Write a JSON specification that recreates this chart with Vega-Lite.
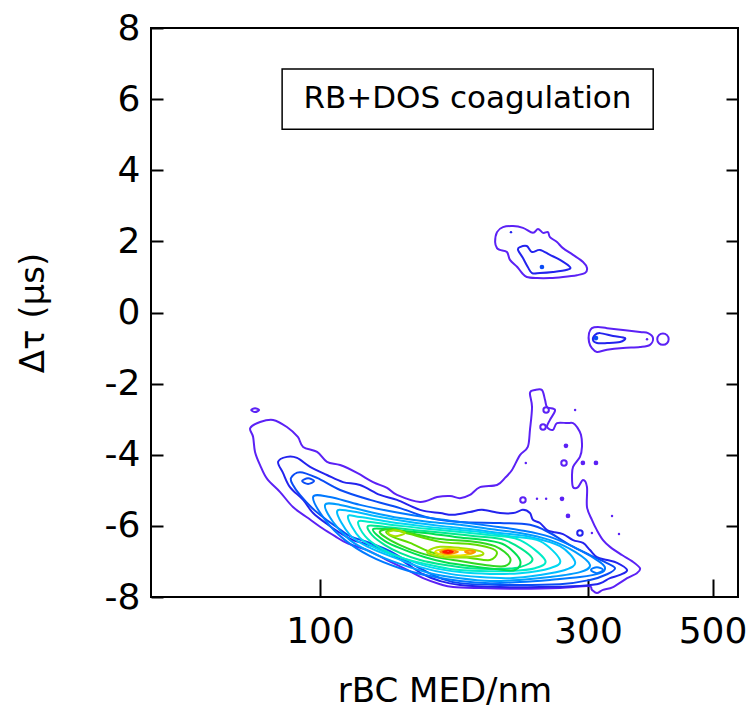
{
"$schema": "https://vega.github.io/schema/vega-lite/v6.json",
"width": 587, "height": 569,
"autosize": {"type": "none"},
"padding": {"left": 151, "top": 28, "right": 17, "bottom": 116},
"background": "white",
"config": {
 "view": {"stroke": "black", "strokeWidth": 2},
 "font": "DejaVu Sans",
 "axis": {"labelFont": "DejaVu Sans", "titleFont": "DejaVu Sans", "labelColor": "black", "titleColor": "black", "tickColor": "black", "tickWidth": 2, "domain": false, "grid": false, "titleFontWeight": "normal", "labelOverlap": false, "labelFlush": false}
},
"datasets": {
 "box": [{"x1": 85.6, "x2": 392, "y1": 6.85, "y2": 5.15, "tx": 183, "ty": 6.0, "label": "RB+DOS coagulation"}],
 "dots": [
  {"k":"h","lv":1,"x":252.7,"y":-2.74},{"k":"h","lv":1,"x":249.5,"y":-3.22},{"k":"h","lv":1,"x":271.9,"y":-4.23},{"k":"h","lv":1,"x":229.8,"y":-5.27},{"k":"h","lv":2,"x":290.3,"y":-6.20},
  {"k":"f","lv":1,"x":274.1,"y":-3.75},{"k":"f","lv":1,"x":293.8,"y":-4.23},{"k":"f","lv":1,"x":310.0,"y":-4.23},{"k":"f","lv":1,"x":269.7,"y":-5.24},{"k":"f","lv":1,"x":276.4,"y":-5.72},{"k":"f","lv":3,"x":248.4,"y":1.28},{"k":"f","lv":3,"x":310.0,"y":-0.72},
  {"k":"t","lv":1,"x":284.6,"y":-2.74},{"k":"t","lv":1,"x":232.5,"y":-4.23},{"k":"t","lv":1,"x":243.4,"y":-5.24},{"k":"t","lv":1,"x":252.7,"y":-5.24},{"k":"t","lv":1,"x":331.1,"y":-5.72},{"k":"t","lv":1,"x":304.9,"y":-6.20},{"k":"t","lv":1,"x":340.7,"y":-6.23},{"k":"t","lv":2,"x":218.8,"y":2.26},{"k":"t","lv":1,"x":382.2,"y":-0.75},
  {"k":"H","lv":1,"x":408,"y":-0.75}
 ],
 "contours": [
  {"c":1,"lv":1,"x":75.1,"y":-3.25},{"c":1,"lv":1,"x":78.2,"y":-3.08},{"c":1,"lv":1,"x":82.5,"y":-3.02},{"c":1,"lv":1,"x":87.3,"y":-3.22},{"c":1,"lv":1,"x":91.3,"y":-3.50},{"c":1,"lv":1,"x":93.3,"y":-3.78},{"c":1,"lv":1,"x":98.8,"y":-3.92},{"c":1,"lv":1,"x":102.9,"y":-4.20},{"c":1,"lv":1,"x":108.6,"y":-4.29},{"c":1,"lv":1,"x":116.4,"y":-4.51},{"c":1,"lv":1,"x":124.3,"y":-4.77},{"c":1,"lv":1,"x":131.6,"y":-4.93},{"c":1,"lv":1,"x":137.1,"y":-5.13},{"c":1,"lv":1,"x":150.7,"y":-5.33},{"c":1,"lv":1,"x":161.6,"y":-5.19},{"c":1,"lv":1,"x":170.4,"y":-5.16},{"c":1,"lv":1,"x":177.5,"y":-5.22},{"c":1,"lv":1,"x":184.9,"y":-5.13},{"c":1,"lv":1,"x":192.7,"y":-4.91},{"c":1,"lv":1,"x":206.6,"y":-4.85},{"c":1,"lv":1,"x":213.5,"y":-4.65},{"c":1,"lv":1,"x":219.7,"y":-4.43},{"c":1,"lv":1,"x":227.0,"y":-4.01},{"c":1,"lv":1,"x":234.4,"y":-3.78},{"c":1,"lv":1,"x":236.5,"y":-3.30},{"c":1,"lv":1,"x":238.5,"y":-2.66},{"c":1,"lv":1,"x":236.5,"y":-2.26},{"c":1,"lv":1,"x":241.4,"y":-2.18},{"c":1,"lv":1,"x":248.4,"y":-2.18},{"c":1,"lv":1,"x":251.6,"y":-2.46},{"c":1,"lv":1,"x":253.7,"y":-2.66},{"c":1,"lv":1,"x":262.1,"y":-2.74},{"c":1,"lv":1,"x":256.7,"y":-3.02},{"c":1,"lv":1,"x":253.7,"y":-3.22},{"c":1,"lv":1,"x":259.9,"y":-3.30},{"c":1,"lv":1,"x":264.2,"y":-3.11},{"c":1,"lv":1,"x":275.3,"y":-3.11},{"c":1,"lv":1,"x":282.2,"y":-3.11},{"c":1,"lv":1,"x":286.8,"y":-3.22},{"c":1,"lv":1,"x":291.5,"y":-3.44},{"c":1,"lv":1,"x":292.7,"y":-3.78},{"c":1,"lv":1,"x":290.3,"y":-4.06},{"c":1,"lv":1,"x":282.2,"y":-4.34},{"c":1,"lv":1,"x":281.0,"y":-4.63},{"c":1,"lv":1,"x":282.2,"y":-4.91},{"c":1,"lv":1,"x":288.0,"y":-4.91},{"c":1,"lv":1,"x":294.0,"y":-4.71},{"c":1,"lv":1,"x":298.8,"y":-4.91},{"c":1,"lv":1,"x":298.8,"y":-5.47},{"c":1,"lv":1,"x":304.9,"y":-5.83},{"c":1,"lv":1,"x":311.2,"y":-6.12},{"c":1,"lv":1,"x":319.1,"y":-6.40},{"c":1,"lv":1,"x":328.4,"y":-6.59},{"c":1,"lv":1,"x":344.9,"y":-6.82},{"c":1,"lv":1,"x":359.3,"y":-6.99},{"c":1,"lv":1,"x":371.3,"y":-7.19},{"c":1,"lv":1,"x":366.6,"y":-7.33},{"c":1,"lv":1,"x":352.2,"y":-7.47},{"c":1,"lv":1,"x":332.5,"y":-7.72},{"c":1,"lv":1,"x":319.1,"y":-7.80},{"c":1,"lv":1,"x":311.2,"y":-7.89},{"c":1,"lv":1,"x":304.9,"y":-7.80},{"c":1,"lv":1,"x":300.0,"y":-7.69},{"c":1,"lv":1,"x":267.5,"y":-7.75},{"c":1,"lv":1,"x":227.0,"y":-7.77},{"c":1,"lv":1,"x":192.7,"y":-7.75},{"c":1,"lv":1,"x":172.5,"y":-7.72},{"c":1,"lv":1,"x":163.6,"y":-7.64},{"c":1,"lv":1,"x":152.6,"y":-7.47},{"c":1,"lv":1,"x":143.0,"y":-7.24},{"c":1,"lv":1,"x":131.6,"y":-6.96},{"c":1,"lv":1,"x":121.3,"y":-6.68},{"c":1,"lv":1,"x":111.5,"y":-6.48},{"c":1,"lv":1,"x":106.3,"y":-6.29},{"c":1,"lv":1,"x":100.8,"y":-6.06},{"c":1,"lv":1,"x":95.2,"y":-5.78},{"c":1,"lv":1,"x":89.5,"y":-5.47},{"c":1,"lv":1,"x":84.9,"y":-5.05},{"c":1,"lv":1,"x":80.5,"y":-4.68},{"c":1,"lv":1,"x":78.2,"y":-4.29},{"c":1,"lv":1,"x":76.6,"y":-3.92},{"c":1,"lv":1,"x":76.0,"y":-3.50},
  {"c":2,"lv":1,"x":75.4,"y":-2.74},{"c":2,"lv":1,"x":76.6,"y":-2.69},{"c":2,"lv":1,"x":77.9,"y":-2.74},{"c":2,"lv":1,"x":76.6,"y":-2.80},
  {"c":3,"lv":1,"x":206.6,"y":2.26},{"c":3,"lv":1,"x":211.7,"y":2.40},{"c":3,"lv":1,"x":220.6,"y":2.43},{"c":3,"lv":1,"x":229.8,"y":2.38},{"c":3,"lv":1,"x":239.4,"y":2.24},{"c":3,"lv":1,"x":244.4,"y":2.35},{"c":3,"lv":1,"x":249.5,"y":2.24},{"c":3,"lv":1,"x":254.6,"y":2.26},{"c":3,"lv":1,"x":256.7,"y":2.12},{"c":3,"lv":1,"x":264.2,"y":1.98},{"c":3,"lv":1,"x":270.8,"y":1.81},{"c":3,"lv":1,"x":282.2,"y":1.62},{"c":3,"lv":1,"x":294.0,"y":1.42},{"c":3,"lv":1,"x":298.8,"y":1.25},{"c":3,"lv":1,"x":296.4,"y":1.11},{"c":3,"lv":1,"x":286.8,"y":1.05},{"c":3,"lv":1,"x":270.8,"y":1.00},{"c":3,"lv":1,"x":256.7,"y":0.97},{"c":3,"lv":1,"x":243.4,"y":0.97},{"c":3,"lv":1,"x":233.4,"y":1.00},{"c":3,"lv":1,"x":228.9,"y":1.11},{"c":3,"lv":1,"x":224.5,"y":1.28},{"c":3,"lv":1,"x":217.9,"y":1.48},{"c":3,"lv":1,"x":215.2,"y":1.70},{"c":3,"lv":1,"x":209.1,"y":1.76},{"c":3,"lv":1,"x":206.6,"y":1.81},{"c":3,"lv":1,"x":205.0,"y":1.98},
  {"c":4,"lv":2,"x":227.0,"y":1.84},{"c":4,"lv":2,"x":233.4,"y":1.87},{"c":4,"lv":2,"x":238.5,"y":1.70},{"c":4,"lv":2,"x":246.4,"y":1.76},{"c":4,"lv":2,"x":256.7,"y":1.62},{"c":4,"lv":2,"x":267.5,"y":1.48},{"c":4,"lv":2,"x":278.7,"y":1.28},{"c":4,"lv":2,"x":275.3,"y":1.20},{"c":4,"lv":2,"x":259.9,"y":1.14},{"c":4,"lv":2,"x":246.4,"y":1.11},{"c":4,"lv":2,"x":238.5,"y":1.11},{"c":4,"lv":2,"x":234.4,"y":1.28},{"c":4,"lv":2,"x":229.8,"y":1.53},{"c":4,"lv":2,"x":225.2,"y":1.76},
  {"c":5,"lv":1,"x":304.9,"y":-0.44},{"c":5,"lv":1,"x":312.6,"y":-0.41},{"c":5,"lv":1,"x":324.4,"y":-0.44},{"c":5,"lv":1,"x":346.4,"y":-0.49},{"c":5,"lv":1,"x":371.3,"y":-0.55},{"c":5,"lv":1,"x":383.8,"y":-0.58},{"c":5,"lv":1,"x":391.7,"y":-0.72},{"c":5,"lv":1,"x":386.9,"y":-0.91},{"c":5,"lv":1,"x":371.3,"y":-0.97},{"c":5,"lv":1,"x":346.4,"y":-1.00},{"c":5,"lv":1,"x":324.4,"y":-1.05},{"c":5,"lv":1,"x":311.2,"y":-1.11},{"c":5,"lv":1,"x":304.9,"y":-1.00},{"c":5,"lv":1,"x":301.3,"y":-0.83},{"c":5,"lv":1,"x":301.3,"y":-0.58},
  {"c":6,"lv":2,"x":308.7,"y":-0.63},{"c":6,"lv":2,"x":315.2,"y":-0.58},{"c":6,"lv":2,"x":332.5,"y":-0.66},{"c":6,"lv":2,"x":349.3,"y":-0.72},{"c":6,"lv":2,"x":342.1,"y":-0.83},{"c":6,"lv":2,"x":324.4,"y":-0.86},{"c":6,"lv":2,"x":311.2,"y":-0.86},{"c":6,"lv":2,"x":306.2,"y":-0.77},
  {"c":7,"lv":2,"x":84.2,"y":-4.20},{"c":7,"lv":2,"x":87.3,"y":-4.06},{"c":7,"lv":2,"x":91.0,"y":-4.09},{"c":7,"lv":2,"x":96.0,"y":-4.34},{"c":7,"lv":2,"x":102.9,"y":-4.57},{"c":7,"lv":2,"x":109.9,"y":-4.77},{"c":7,"lv":2,"x":117.8,"y":-4.85},{"c":7,"lv":2,"x":127.9,"y":-5.13},{"c":7,"lv":2,"x":137.1,"y":-5.27},{"c":7,"lv":2,"x":150.7,"y":-5.55},{"c":7,"lv":2,"x":163.6,"y":-5.64},{"c":7,"lv":2,"x":172.5,"y":-5.69},{"c":7,"lv":2,"x":184.9,"y":-5.61},{"c":7,"lv":2,"x":194.3,"y":-5.55},{"c":7,"lv":2,"x":209.1,"y":-5.64},{"c":7,"lv":2,"x":220.8,"y":-5.64},{"c":7,"lv":2,"x":229.8,"y":-5.55},{"c":7,"lv":2,"x":236.5,"y":-5.64},{"c":7,"lv":2,"x":239.4,"y":-5.83},{"c":7,"lv":2,"x":246.4,"y":-5.92},{"c":7,"lv":2,"x":253.7,"y":-6.12},{"c":7,"lv":2,"x":259.9,"y":-6.17},{"c":7,"lv":2,"x":270.8,"y":-6.23},{"c":7,"lv":2,"x":282.2,"y":-6.40},{"c":7,"lv":2,"x":294.0,"y":-6.48},{"c":7,"lv":2,"x":302.5,"y":-6.68},{"c":7,"lv":2,"x":311.2,"y":-6.88},{"c":7,"lv":2,"x":324.4,"y":-6.96},{"c":7,"lv":2,"x":338.0,"y":-7.04},{"c":7,"lv":2,"x":352.2,"y":-7.24},{"c":7,"lv":2,"x":342.1,"y":-7.38},{"c":7,"lv":2,"x":328.4,"y":-7.47},{"c":7,"lv":2,"x":319.1,"y":-7.58},{"c":7,"lv":2,"x":311.2,"y":-7.64},{"c":7,"lv":2,"x":290.3,"y":-7.69},{"c":7,"lv":2,"x":246.4,"y":-7.72},{"c":7,"lv":2,"x":209.1,"y":-7.72},{"c":7,"lv":2,"x":177.5,"y":-7.66},{"c":7,"lv":2,"x":163.6,"y":-7.55},{"c":7,"lv":2,"x":152.6,"y":-7.36},{"c":7,"lv":2,"x":143.0,"y":-7.07},{"c":7,"lv":2,"x":134.8,"y":-6.82},{"c":7,"lv":2,"x":125.4,"y":-6.59},{"c":7,"lv":2,"x":114.5,"y":-6.40},{"c":7,"lv":2,"x":108.6,"y":-6.20},{"c":7,"lv":2,"x":103.3,"y":-5.97},{"c":7,"lv":2,"x":97.2,"y":-5.64},{"c":7,"lv":2,"x":93.3,"y":-5.27},{"c":7,"lv":2,"x":88.4,"y":-4.91},{"c":7,"lv":2,"x":85.9,"y":-4.51},
  {"c":8,"lv":3,"x":88.8,"y":-4.65},{"c":8,"lv":3,"x":92.1,"y":-4.49},{"c":8,"lv":3,"x":98.8,"y":-4.65},{"c":8,"lv":3,"x":108.6,"y":-4.99},{"c":8,"lv":3,"x":122.8,"y":-5.27},{"c":8,"lv":3,"x":138.8,"y":-5.50},{"c":8,"lv":3,"x":157.0,"y":-5.78},{"c":8,"lv":3,"x":177.5,"y":-5.89},{"c":8,"lv":3,"x":209.1,"y":-5.92},{"c":8,"lv":3,"x":236.5,"y":-5.97},{"c":8,"lv":3,"x":256.7,"y":-6.20},{"c":8,"lv":3,"x":278.7,"y":-6.54},{"c":8,"lv":3,"x":302.5,"y":-6.82},{"c":8,"lv":3,"x":321.8,"y":-7.02},{"c":8,"lv":3,"x":335.2,"y":-7.19},{"c":8,"lv":3,"x":324.4,"y":-7.36},{"c":8,"lv":3,"x":302.5,"y":-7.52},{"c":8,"lv":3,"x":267.5,"y":-7.64},{"c":8,"lv":3,"x":209.1,"y":-7.66},{"c":8,"lv":3,"x":177.5,"y":-7.61},{"c":8,"lv":3,"x":163.6,"y":-7.47},{"c":8,"lv":3,"x":152.6,"y":-7.24},{"c":8,"lv":3,"x":141.7,"y":-6.96},{"c":8,"lv":3,"x":133.2,"y":-6.71},{"c":8,"lv":3,"x":122.8,"y":-6.48},{"c":8,"lv":3,"x":113.1,"y":-6.29},{"c":8,"lv":3,"x":107.7,"y":-6.06},{"c":8,"lv":3,"x":102.1,"y":-5.80},{"c":8,"lv":3,"x":96.8,"y":-5.50},{"c":8,"lv":3,"x":92.1,"y":-5.13},{"c":8,"lv":3,"x":89.5,"y":-4.85},
  {"c":9,"lv":3,"x":92.9,"y":-4.74},{"c":9,"lv":3,"x":95.2,"y":-4.66},{"c":9,"lv":3,"x":97.6,"y":-4.74},{"c":9,"lv":3,"x":95.2,"y":-4.82},
  {"c":10,"lv":4,"x":97.2,"y":-5.19},{"c":10,"lv":4,"x":104.2,"y":-5.19},{"c":10,"lv":4,"x":117.8,"y":-5.41},{"c":10,"lv":4,"x":138.8,"y":-5.64},{"c":10,"lv":4,"x":157.0,"y":-5.78},{"c":10,"lv":4,"x":177.5,"y":-5.89},{"c":10,"lv":4,"x":200.7,"y":-6.00},{"c":10,"lv":4,"x":227.0,"y":-6.12},{"c":10,"lv":4,"x":256.7,"y":-6.31},{"c":10,"lv":4,"x":290.3,"y":-6.68},{"c":10,"lv":4,"x":315.2,"y":-7.02},{"c":10,"lv":4,"x":321.8,"y":-7.19},{"c":10,"lv":4,"x":315.2,"y":-7.33},{"c":10,"lv":4,"x":290.3,"y":-7.44},{"c":10,"lv":4,"x":256.7,"y":-7.52},{"c":10,"lv":4,"x":227.0,"y":-7.58},{"c":10,"lv":4,"x":200.7,"y":-7.61},{"c":10,"lv":4,"x":177.5,"y":-7.55},{"c":10,"lv":4,"x":157.0,"y":-7.41},{"c":10,"lv":4,"x":138.8,"y":-7.19},{"c":10,"lv":4,"x":122.8,"y":-6.85},{"c":10,"lv":4,"x":110.8,"y":-6.40},{"c":10,"lv":4,"x":102.1,"y":-5.83},
  {"c":11,"lv":4,"x":303.7,"y":-7.24},{"c":11,"lv":4,"x":311.2,"y":-7.16},{"c":11,"lv":4,"x":319.1,"y":-7.24},{"c":11,"lv":4,"x":311.2,"y":-7.33},
  {"c":12,"lv":5,"x":102.1,"y":-5.41},{"c":12,"lv":5,"x":108.6,"y":-5.41},{"c":12,"lv":5,"x":122.8,"y":-5.61},{"c":12,"lv":5,"x":138.8,"y":-5.78},{"c":12,"lv":5,"x":157.0,"y":-5.89},{"c":12,"lv":5,"x":177.5,"y":-5.97},{"c":12,"lv":5,"x":200.7,"y":-6.09},{"c":12,"lv":5,"x":227.0,"y":-6.20},{"c":12,"lv":5,"x":256.7,"y":-6.40},{"c":12,"lv":5,"x":284.6,"y":-6.73},{"c":12,"lv":5,"x":302.5,"y":-7.10},{"c":12,"lv":5,"x":290.3,"y":-7.30},{"c":12,"lv":5,"x":256.7,"y":-7.44},{"c":12,"lv":5,"x":227.0,"y":-7.52},{"c":12,"lv":5,"x":200.7,"y":-7.55},{"c":12,"lv":5,"x":177.5,"y":-7.47},{"c":12,"lv":5,"x":157.0,"y":-7.33},{"c":12,"lv":5,"x":138.8,"y":-7.07},{"c":12,"lv":5,"x":122.8,"y":-6.73},{"c":12,"lv":5,"x":113.1,"y":-6.40},{"c":12,"lv":5,"x":105.5,"y":-5.89},
  {"c":13,"lv":6,"x":107.2,"y":-5.61},{"c":13,"lv":6,"x":113.1,"y":-5.58},{"c":13,"lv":6,"x":127.9,"y":-5.75},{"c":13,"lv":6,"x":144.6,"y":-5.89},{"c":13,"lv":6,"x":163.6,"y":-6.00},{"c":13,"lv":6,"x":184.9,"y":-6.09},{"c":13,"lv":6,"x":209.1,"y":-6.20},{"c":13,"lv":6,"x":236.5,"y":-6.31},{"c":13,"lv":6,"x":267.5,"y":-6.57},{"c":13,"lv":6,"x":284.6,"y":-7.02},{"c":13,"lv":6,"x":273.1,"y":-7.24},{"c":13,"lv":6,"x":246.4,"y":-7.38},{"c":13,"lv":6,"x":217.9,"y":-7.47},{"c":13,"lv":6,"x":192.7,"y":-7.44},{"c":13,"lv":6,"x":170.4,"y":-7.35},{"c":13,"lv":6,"x":150.7,"y":-7.16},{"c":13,"lv":6,"x":136.0,"y":-6.90},{"c":13,"lv":6,"x":122.8,"y":-6.62},{"c":13,"lv":6,"x":113.1,"y":-6.26},
  {"c":14,"lv":7,"x":112.1,"y":-5.75},{"c":14,"lv":7,"x":117.8,"y":-5.75},{"c":14,"lv":7,"x":133.2,"y":-5.89},{"c":14,"lv":7,"x":150.7,"y":-6.00},{"c":14,"lv":7,"x":170.4,"y":-6.09},{"c":14,"lv":7,"x":192.7,"y":-6.17},{"c":14,"lv":7,"x":217.9,"y":-6.29},{"c":14,"lv":7,"x":246.4,"y":-6.43},{"c":14,"lv":7,"x":267.5,"y":-6.96},{"c":14,"lv":7,"x":256.7,"y":-7.19},{"c":14,"lv":7,"x":227.0,"y":-7.33},{"c":14,"lv":7,"x":200.7,"y":-7.35},{"c":14,"lv":7,"x":177.5,"y":-7.30},{"c":14,"lv":7,"x":157.0,"y":-7.16},{"c":14,"lv":7,"x":141.7,"y":-6.93},{"c":14,"lv":7,"x":127.9,"y":-6.68},{"c":14,"lv":7,"x":117.8,"y":-6.34},
  {"c":15,"lv":8,"x":116.9,"y":-5.89},{"c":15,"lv":8,"x":122.8,"y":-5.89},{"c":15,"lv":8,"x":138.8,"y":-6.00},{"c":15,"lv":8,"x":157.0,"y":-6.09},{"c":15,"lv":8,"x":177.5,"y":-6.17},{"c":15,"lv":8,"x":200.7,"y":-6.26},{"c":15,"lv":8,"x":227.0,"y":-6.40},{"c":15,"lv":8,"x":251.6,"y":-6.96},{"c":15,"lv":8,"x":241.4,"y":-7.19},{"c":15,"lv":8,"x":217.9,"y":-7.27},{"c":15,"lv":8,"x":192.7,"y":-7.27},{"c":15,"lv":8,"x":170.4,"y":-7.21},{"c":15,"lv":8,"x":153.8,"y":-7.07},{"c":15,"lv":8,"x":138.8,"y":-6.88},{"c":15,"lv":8,"x":127.9,"y":-6.62},{"c":15,"lv":8,"x":120.3,"y":-6.29},
  {"c":16,"lv":9,"x":121.8,"y":-6.00},{"c":16,"lv":9,"x":130.5,"y":-6.03},{"c":16,"lv":9,"x":147.6,"y":-6.12},{"c":16,"lv":9,"x":167.0,"y":-6.20},{"c":16,"lv":9,"x":188.8,"y":-6.29},{"c":16,"lv":9,"x":213.5,"y":-6.40},{"c":16,"lv":9,"x":238.5,"y":-6.90},{"c":16,"lv":9,"x":227.0,"y":-7.16},{"c":16,"lv":9,"x":204.9,"y":-7.21},{"c":16,"lv":9,"x":184.9,"y":-7.19},{"c":16,"lv":9,"x":167.0,"y":-7.10},{"c":16,"lv":9,"x":150.7,"y":-6.96},{"c":16,"lv":9,"x":138.8,"y":-6.76},{"c":16,"lv":9,"x":130.5,"y":-6.54},{"c":16,"lv":9,"x":123.8,"y":-6.26},
  {"c":17,"lv":10,"x":124.3,"y":-6.09},{"c":17,"lv":10,"x":136.0,"y":-6.12},{"c":17,"lv":10,"x":153.8,"y":-6.20},{"c":17,"lv":10,"x":174.0,"y":-6.31},{"c":17,"lv":10,"x":196.7,"y":-6.40},{"c":17,"lv":10,"x":213.5,"y":-6.54},{"c":17,"lv":10,"x":227.0,"y":-6.96},{"c":17,"lv":10,"x":222.4,"y":-7.24},{"c":17,"lv":10,"x":204.9,"y":-7.21},{"c":17,"lv":10,"x":184.9,"y":-7.13},{"c":17,"lv":10,"x":167.0,"y":-7.02},{"c":17,"lv":10,"x":153.8,"y":-6.88},{"c":17,"lv":10,"x":141.7,"y":-6.68},{"c":17,"lv":10,"x":130.5,"y":-6.43},
  {"c":18,"lv":11,"x":127.9,"y":-6.15},{"c":18,"lv":11,"x":134.8,"y":-6.09},{"c":18,"lv":11,"x":144.6,"y":-6.20},{"c":18,"lv":11,"x":163.6,"y":-6.37},{"c":18,"lv":11,"x":184.9,"y":-6.43},{"c":18,"lv":11,"x":204.9,"y":-6.57},{"c":18,"lv":11,"x":217.9,"y":-6.90},{"c":18,"lv":11,"x":213.5,"y":-7.13},{"c":18,"lv":11,"x":196.7,"y":-7.10},{"c":18,"lv":11,"x":177.5,"y":-6.99},{"c":18,"lv":11,"x":163.6,"y":-6.90},{"c":18,"lv":11,"x":150.7,"y":-6.76},{"c":18,"lv":11,"x":138.8,"y":-6.54},{"c":18,"lv":11,"x":130.5,"y":-6.31},
  {"c":25,"lv":12,"x":131.1,"y":-6.17},{"c":25,"lv":12,"x":136.0,"y":-6.12},{"c":25,"lv":12,"x":144.6,"y":-6.23},{"c":25,"lv":12,"x":163.6,"y":-6.45},{"c":25,"lv":12,"x":184.9,"y":-6.51},{"c":25,"lv":12,"x":200.7,"y":-6.62},{"c":25,"lv":12,"x":206.6,"y":-6.76},{"c":25,"lv":12,"x":200.7,"y":-6.96},{"c":25,"lv":12,"x":184.9,"y":-6.90},{"c":25,"lv":12,"x":170.4,"y":-6.85},{"c":25,"lv":12,"x":157.0,"y":-6.73},{"c":25,"lv":12,"x":144.6,"y":-6.48},{"c":25,"lv":12,"x":134.8,"y":-6.31},
  {"c":19,"lv":13,"x":132.1,"y":-6.20},{"c":19,"lv":13,"x":136.0,"y":-6.12},{"c":19,"lv":13,"x":141.7,"y":-6.20},{"c":19,"lv":13,"x":136.0,"y":-6.29},
  {"c":20,"lv":13,"x":155.7,"y":-6.71},{"c":20,"lv":13,"x":163.6,"y":-6.59},{"c":20,"lv":13,"x":177.5,"y":-6.62},{"c":20,"lv":13,"x":192.7,"y":-6.71},{"c":20,"lv":13,"x":194.3,"y":-6.82},{"c":20,"lv":13,"x":181.2,"y":-6.88},{"c":20,"lv":13,"x":167.0,"y":-6.88},{"c":20,"lv":13,"x":157.0,"y":-6.79},
  {"c":21,"lv":14,"x":160.3,"y":-6.73},{"c":21,"lv":14,"x":167.0,"y":-6.65},{"c":21,"lv":14,"x":181.2,"y":-6.68},{"c":21,"lv":14,"x":188.8,"y":-6.73},{"c":21,"lv":14,"x":181.2,"y":-6.82},{"c":21,"lv":14,"x":167.0,"y":-6.82},
  {"c":22,"lv":15,"x":163.6,"y":-6.73},{"c":22,"lv":15,"x":169.0,"y":-6.68},{"c":22,"lv":15,"x":176.0,"y":-6.73},{"c":22,"lv":15,"x":169.0,"y":-6.79},
  {"c":23,"lv":15,"x":181.2,"y":-6.73},{"c":23,"lv":15,"x":184.9,"y":-6.69},{"c":23,"lv":15,"x":188.8,"y":-6.73},{"c":23,"lv":15,"x":184.9,"y":-6.77},
  {"c":24,"lv":16,"x":165.6,"y":-6.73},{"c":24,"lv":16,"x":169.0,"y":-6.70},{"c":24,"lv":16,"x":172.5,"y":-6.73},{"c":24,"lv":16,"x":169.0,"y":-6.76}
 ]
},
"resolve": {"axis": {"y": "independent"}},
"layer": [
 {"data": {"name": "box"},
  "mark": {"type": "rect", "fill": "white", "stroke": "black", "strokeWidth": 1.5},
  "encoding": {
   "x": {"field": "x1", "type": "quantitative", "scale": {"type": "log", "domain": [50, 555], "nice": false}},
   "x2": {"field": "x2"},
   "y": {"field": "y1", "type": "quantitative", "scale": {"domain": [-8, 8], "nice": false}, "axis": null},
   "y2": {"field": "y2"}}},
 {"data": {"name": "box"},
  "mark": {"type": "text", "fontSize": 31, "font": "DejaVu Sans", "color": "black", "align": "center", "baseline": "middle"},
  "encoding": {
   "x": {"field": "tx", "type": "quantitative"},
   "y": {"field": "ty", "type": "quantitative", "axis": null},
   "text": {"field": "label"}}},
 {"data": {"name": "contours"},
  "mark": {"type": "line", "interpolate": "cardinal-closed", "strokeWidth": 2},
  "encoding": {
   "x": {"field": "x", "type": "quantitative", "scale": {"type": "log", "domain": [50, 555], "nice": false},
         "axis": {"title": "rBC MED/nm", "values": [100, 300, 500], "format": "d", "tickSize": -18, "labelFontSize": 36, "labelPadding": 35, "titleFontSize": 34, "titlePadding": 25}},
   "y": {"field": "y", "type": "quantitative", "scale": {"domain": [-8, 8], "nice": false},
         "axis": {"title": "Δτ (μs)", "values": [-8, -6, -4, -2, 0, 2, 4, 6, 8], "labelExpr": "replace(datum.label, '−', '-')", "tickSize": -12, "labelFontSize": 36, "labelPadding": 23, "titleFontSize": 34, "titlePadding": 54}},
   "detail": {"field": "c", "type": "nominal"},
   "order": {"value": null},
   "color": {"field": "lv", "type": "ordinal", "legend": null,
     "scale": {"domain": [1,2,3,4,5,6,7,8,9,10,11,12,13,14,15,16],
               "range": ["#5b21f5","#2323ee","#0a4cf5","#0078ff","#009cff","#00bcff","#00d8f0","#00ecc8","#00e890","#00e050","#30d820","#60dc00","#a8e000","#e8e000","#ff9000","#ff1a00"]}}}},
 {"data": {"name": "dots"},
  "transform": [{"filter": "datum.k == 'h'"}],
  "mark": {"type": "point", "filled": false, "size": 30, "strokeWidth": 2, "opacity": 1},
  "encoding": {"x": {"field": "x", "type": "quantitative"}, "y": {"field": "y", "type": "quantitative", "axis": null}, "color": {"field": "lv", "type": "ordinal", "legend": null}}},
 {"data": {"name": "dots"},
  "transform": [{"filter": "datum.k == 'H'"}],
  "mark": {"type": "point", "filled": false, "size": 130, "strokeWidth": 2, "opacity": 1},
  "encoding": {"x": {"field": "x", "type": "quantitative"}, "y": {"field": "y", "type": "quantitative", "axis": null}, "color": {"field": "lv", "type": "ordinal", "legend": null}}},
 {"data": {"name": "dots"},
  "transform": [{"filter": "datum.k == 'f'"}],
  "mark": {"type": "point", "filled": true, "size": 22, "opacity": 1},
  "encoding": {"x": {"field": "x", "type": "quantitative"}, "y": {"field": "y", "type": "quantitative", "axis": null}, "color": {"field": "lv", "type": "ordinal", "legend": null}}},
 {"data": {"name": "dots"},
  "transform": [{"filter": "datum.k == 't'"}],
  "mark": {"type": "point", "filled": true, "size": 6, "opacity": 1},
  "encoding": {"x": {"field": "x", "type": "quantitative"}, "y": {"field": "y", "type": "quantitative", "axis": null}, "color": {"field": "lv", "type": "ordinal", "legend": null}}},
 {"mark": {"type": "rule", "color": "black", "strokeWidth": 2},
  "encoding": {"y": {"datum": 0, "type": "quantitative",
    "axis": {"orient": "right", "values": [-6, -4, -2, 0, 2, 4, 6], "tickSize": -12, "labels": false, "title": null}}}}
]
}
